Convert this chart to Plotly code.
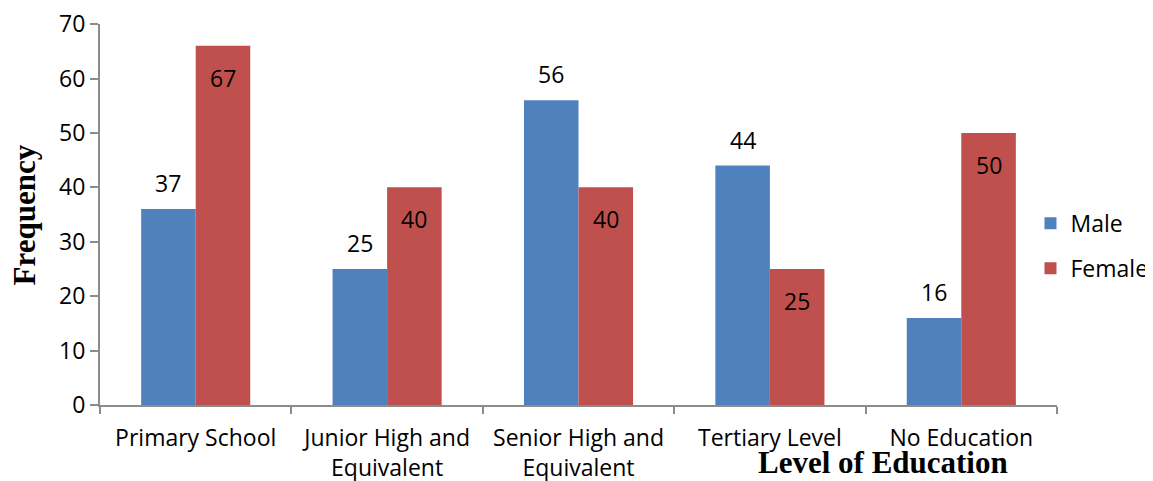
import plotly.graph_objects as go

categories = ["Primary School", "Junior High and<br>Equivalent", "Senior High and<br>Equivalent",
              "Tertiary Level", "No Education"]
male_values = [36, 25, 56, 44, 16]
female_values = [66, 40, 40, 25, 50]
male_labels = ["37", "25", "56", "44", "16"]
female_labels = ["67", "40", "40", "25", "50"]
y_ticks = [0, 10, 20, 30, 40, 50, 60, 70]

MALE_C = "#4F81BD"
FEMALE_C = "#C0504D"
FONT = "Open Sans"
BARGAP = 0.43

fig = go.Figure()
fig.add_trace(go.Bar(name="Male", x=categories, y=male_values, marker_color=MALE_C,
                     marker_line_width=0, legendgroup="m"))
fig.add_trace(go.Bar(name="Female", x=categories, y=female_values, marker_color=FEMALE_C,
                     marker_line_width=0, legendgroup="f"))

off = (1 - BARGAP) / 4
annotations = []
for i, (v, t) in enumerate(zip(male_values, male_labels)):
    annotations.append(dict(x=i - off, y=v, text=t, showarrow=False, yshift=26,
                            font=dict(family=FONT, size=23, color="black")))
for i, (v, t) in enumerate(zip(female_values, female_labels)):
    annotations.append(dict(x=i + off, y=v, text=t, showarrow=False, yshift=-32,
                            font=dict(family=FONT, size=23, color="black")))

annotations.append(dict(xref="paper", yref="paper", x=0.818, y=-0.152, xanchor="center",
                        yanchor="middle", text="<b>Level of Education</b>", showarrow=False,
                        font=dict(family="Liberation Serif", size=31, color="black")))
annotations.append(dict(xref="paper", yref="paper", x=-0.0785, y=0.5, xanchor="center",
                        yanchor="middle", text="<b>Frequency</b>", showarrow=False, textangle=-90,
                        font=dict(family="Liberation Serif", size=31, color="black")))

fig.update_layout(
    width=1145, height=473,
    margin=dict(l=92, r=96, t=16, b=76, autoexpand=False),
    paper_bgcolor="white", plot_bgcolor="white",
    barmode="group", bargap=BARGAP, bargroupgap=0,
    font=dict(family=FONT, size=23, color="black"),
    showlegend=True,
    legend=dict(xref="container", yref="container", x=0.893, xanchor="left",
                y=0.497, yanchor="middle",
                font=dict(family=FONT, size=23, color="black"),
                tracegroupgap=12, traceorder="grouped", itemwidth=30),
    annotations=annotations,
)
fig.update_xaxes(showline=True, linecolor="#8c8c8c", linewidth=2, ticks="outside",
                 tickson="boundaries", ticklen=7, tickcolor="#8c8c8c", tickwidth=2,
                 tickfont=dict(family=FONT, size=23, color="black"), showgrid=False,
                 range=[-0.5, 4.5], automargin=False, ticklabelstandoff=11)
fig.update_yaxes(showline=True, linecolor="#8c8c8c", linewidth=2, ticks="outside",
                 ticklen=8, tickcolor="#8c8c8c", tickwidth=2, range=[0, 70.02],
                 tickvals=y_ticks, showgrid=False, zeroline=False, automargin=False,
                 ticklabeloverflow="allow",
                 tickfont=dict(family=FONT, size=23, color="black"))

fig.write_html("out.html")
